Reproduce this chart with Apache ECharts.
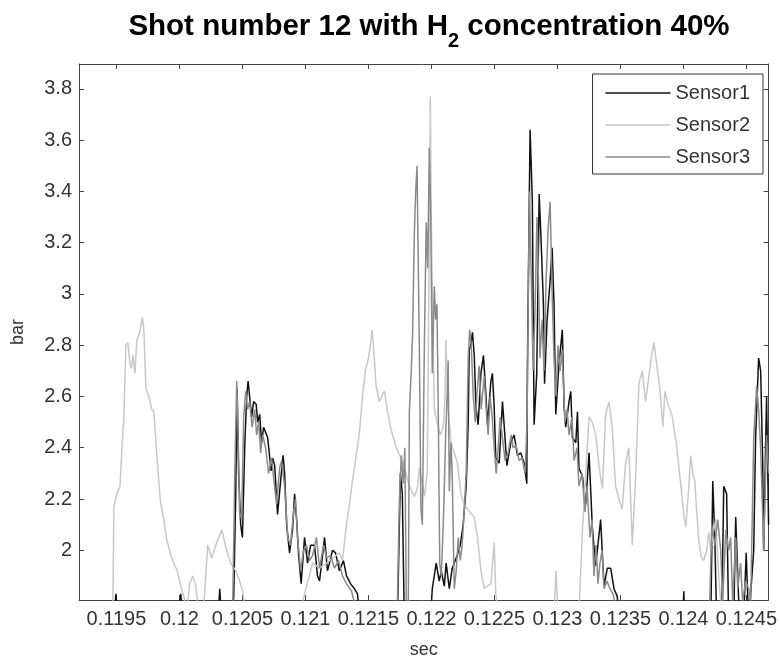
<!DOCTYPE html>
<html>
<head>
<meta charset="utf-8">
<script src="https://cdn.jsdelivr.net/npm/echarts@6/dist/echarts.min.js"></script>
<style>html,body{margin:0;padding:0;background:#fff}#chart{width:780px;height:664px}</style>
</head>
<body>
<div id="chart"></div>
<script>
// ---- data (time in sec, pressure in bar) ----
const seriesNames = ['Sensor1', 'Sensor2', 'Sensor3'];

const sensor1Time = [0.119203,0.119480,0.119496,0.119512,0.119995,0.120011,0.120027,0.120304,0.120320,0.120336,0.120415,0.120431,0.120447,0.120458,0.120470,0.120486,0.120500,0.120518,0.120534,0.120545,0.120557,0.120573,0.120589,0.120609,0.120621,0.120637,0.120652,0.120668,0.120684,0.120700,0.120728,0.120740,0.120756,0.120779,0.120803,0.120823,0.120835,0.120851,0.120874,0.120898,0.120914,0.120930,0.120946,0.120966,0.120993,0.121017,0.121041,0.121072,0.121096,0.121112,0.121136,0.121152,0.121175,0.121191,0.121215,0.121239,0.121270,0.121302,0.121326,0.121358,0.121389,0.121413,0.121437,0.121730,0.121754,0.121769,0.121785,0.121991,0.122007,0.122038,0.122062,0.122078,0.122102,0.122117,0.122142,0.122165,0.122189,0.122205,0.122229,0.122252,0.122276,0.122292,0.122300,0.122312,0.122326,0.122340,0.122353,0.122371,0.122393,0.122413,0.122432,0.122445,0.122472,0.122484,0.122498,0.122511,0.122538,0.122564,0.122577,0.122599,0.122630,0.122656,0.122683,0.122709,0.122736,0.122757,0.122762,0.122783,0.122793,0.122801,0.122815,0.122836,0.122855,0.122868,0.122889,0.122898,0.122918,0.122942,0.122958,0.122973,0.122987,0.123013,0.123039,0.123053,0.123066,0.123092,0.123106,0.123119,0.123146,0.123159,0.123171,0.123198,0.123225,0.123251,0.123277,0.123304,0.123343,0.123370,0.123396,0.123423,0.123449,0.123475,0.123488,0.123995,0.124003,0.124011,0.124217,0.124233,0.124249,0.124264,0.124304,0.124320,0.124343,0.124359,0.124399,0.124415,0.124439,0.124478,0.124498,0.124518,0.124558,0.124573,0.124597,0.124613,0.124629,0.124637,0.124652,0.124660,0.124676];
const sensor1Bar = [1.70,1.72,1.83,1.72,1.72,1.83,1.72,1.72,1.85,1.72,1.72,1.82,2.22,2.63,2.30,2.10,2.05,2.40,2.60,2.66,2.60,2.52,2.58,2.57,2.50,2.53,2.42,2.48,2.46,2.44,2.31,2.36,2.33,2.14,2.27,2.37,2.30,2.10,1.99,2.08,2.22,2.12,1.98,1.87,2.05,1.95,2.02,2.02,1.90,1.88,1.98,2.05,1.92,1.95,2.00,1.99,1.92,1.96,1.90,1.87,1.85,1.83,1.72,1.72,2.30,2.22,1.72,1.72,1.85,1.95,1.88,1.92,1.86,1.95,1.85,1.93,1.96,1.98,2.02,2.10,2.25,2.50,2.78,2.80,2.85,2.76,2.56,2.49,2.69,2.76,2.61,2.49,2.66,2.69,2.56,2.36,2.34,2.58,2.49,2.33,2.42,2.45,2.37,2.38,2.34,2.26,2.72,3.64,3.49,3.36,2.49,2.69,3.39,3.24,2.96,2.65,2.90,3.05,3.18,2.96,2.53,2.73,2.86,2.56,2.48,2.58,2.62,2.44,2.42,2.54,2.32,2.29,2.18,2.38,2.09,1.94,2.12,1.86,1.93,1.93,1.85,1.82,1.72,1.72,1.84,1.72,1.72,2.27,2.05,1.72,1.72,2.25,2.22,1.72,1.72,2.13,1.80,1.72,1.99,1.72,2.00,2.44,2.75,2.70,2.35,2.00,2.40,2.60,2.10];

const sensor2Time = [0.119203,0.119472,0.119480,0.119504,0.119528,0.119544,0.119559,0.119575,0.119591,0.119607,0.119619,0.119631,0.119647,0.119662,0.119678,0.119694,0.119706,0.119718,0.119734,0.119757,0.119781,0.119797,0.119821,0.119849,0.119876,0.119900,0.119932,0.119955,0.119983,0.120011,0.120035,0.120058,0.120082,0.120106,0.120130,0.120153,0.120193,0.120225,0.120256,0.120296,0.120336,0.120375,0.120407,0.120447,0.120478,0.120502,0.120526,0.120954,0.121009,0.121057,0.121112,0.121168,0.121215,0.121270,0.121294,0.121326,0.121350,0.121373,0.121397,0.121429,0.121453,0.121476,0.121500,0.121516,0.121528,0.121540,0.121561,0.121587,0.121613,0.121627,0.121653,0.121680,0.121698,0.121720,0.121759,0.121798,0.121825,0.121864,0.121888,0.121904,0.121928,0.121944,0.121967,0.121983,0.121991,0.121999,0.122007,0.122023,0.122046,0.122070,0.122094,0.122109,0.122115,0.122133,0.122155,0.122181,0.122207,0.122234,0.122260,0.122286,0.122340,0.122366,0.122393,0.122419,0.122472,0.122498,0.122511,0.122530,0.122973,0.122989,0.123005,0.123171,0.123198,0.123225,0.123251,0.123277,0.123304,0.123330,0.123357,0.123383,0.123409,0.123435,0.123462,0.123488,0.123514,0.123541,0.123567,0.123594,0.123621,0.123647,0.123673,0.123700,0.123739,0.123766,0.123782,0.123797,0.123813,0.123837,0.123853,0.123877,0.123908,0.123948,0.123980,0.124003,0.124019,0.124043,0.124058,0.124074,0.124090,0.124106,0.124122,0.124138,0.124161,0.124185,0.124201,0.124217,0.124241,0.124256,0.124280,0.124304,0.124676];
const sensor2Bar = [1.75,1.80,2.17,2.22,2.25,2.40,2.52,2.80,2.81,2.73,2.71,2.76,2.69,2.82,2.84,2.87,2.91,2.86,2.63,2.60,2.55,2.54,2.37,2.19,2.12,2.04,1.98,1.95,1.92,1.86,1.82,1.76,1.87,1.90,1.86,1.76,1.78,2.02,1.97,2.03,2.08,2.00,1.95,1.92,1.88,1.84,1.76,1.75,1.86,1.95,1.93,1.95,1.97,1.99,1.96,2.10,2.18,2.27,2.35,2.46,2.60,2.70,2.75,2.80,2.86,2.80,2.64,2.58,2.61,2.62,2.54,2.47,2.44,2.40,2.36,2.30,2.25,2.21,2.24,2.32,2.26,2.21,2.30,3.20,3.77,3.30,3.00,2.55,2.50,2.45,2.48,2.60,2.82,2.55,2.42,2.38,2.34,2.22,2.18,2.16,2.13,2.05,1.92,1.85,1.87,2.03,1.83,1.75,1.75,1.92,1.75,1.76,2.07,2.30,2.52,2.50,2.45,2.33,2.24,2.53,2.58,2.48,2.25,2.20,2.16,2.34,2.40,2.02,2.29,2.65,2.70,2.58,2.73,2.81,2.75,2.69,2.63,2.48,2.62,2.57,2.53,2.40,2.25,2.14,2.09,2.25,2.37,2.30,2.27,2.15,2.04,1.98,1.96,2.00,2.07,2.00,2.08,2.12,1.90,1.75,1.75];

const sensor3Time = [0.119203,0.120423,0.120439,0.120455,0.120466,0.120478,0.120494,0.120510,0.120526,0.120541,0.120557,0.120577,0.120597,0.120613,0.120629,0.120645,0.120660,0.120684,0.120708,0.120732,0.120748,0.120771,0.120795,0.120811,0.120835,0.120859,0.120882,0.120906,0.120922,0.120938,0.120962,0.120985,0.121009,0.121033,0.121057,0.121088,0.121112,0.121144,0.121168,0.121199,0.121231,0.121263,0.121294,0.121326,0.121366,0.121397,0.121706,0.121730,0.121746,0.121761,0.121777,0.121789,0.121801,0.121817,0.121825,0.121840,0.121851,0.121864,0.121876,0.121886,0.121896,0.121904,0.121917,0.121928,0.121944,0.121959,0.121971,0.121983,0.121995,0.122007,0.122023,0.122034,0.122044,0.122054,0.122066,0.122078,0.122094,0.122115,0.122125,0.122133,0.122142,0.122155,0.122165,0.122181,0.122197,0.122213,0.122229,0.122244,0.122260,0.122276,0.122292,0.122304,0.122316,0.122332,0.122348,0.122363,0.122379,0.122395,0.122419,0.122435,0.122450,0.122466,0.122482,0.122498,0.122514,0.122530,0.122546,0.122561,0.122585,0.122609,0.122633,0.122648,0.122672,0.122696,0.122720,0.122743,0.122759,0.122771,0.122779,0.122791,0.122807,0.122823,0.122838,0.122850,0.122862,0.122878,0.122894,0.122910,0.122926,0.122942,0.122958,0.122973,0.122989,0.123005,0.123021,0.123037,0.123060,0.123076,0.123092,0.123116,0.123132,0.123156,0.123171,0.123195,0.123219,0.123235,0.123259,0.123275,0.123290,0.123306,0.123322,0.123338,0.123354,0.123370,0.123393,0.123417,0.123441,0.123464,0.124161,0.124209,0.124225,0.124249,0.124272,0.124296,0.124312,0.124336,0.124359,0.124375,0.124391,0.124415,0.124431,0.124454,0.124470,0.124494,0.124518,0.124534,0.124558,0.124581,0.124597,0.124613,0.124637,0.124660,0.124676];
const sensor3Bar = [1.70,1.78,2.30,2.66,2.45,2.15,2.12,2.52,2.62,2.55,2.58,2.48,2.55,2.45,2.50,2.38,2.45,2.40,2.30,2.36,2.28,2.18,2.32,2.35,2.25,2.05,2.02,2.15,2.20,2.05,1.92,2.00,2.02,1.96,1.98,2.05,1.93,2.02,1.97,1.98,1.93,1.96,1.90,1.87,1.84,1.78,1.75,1.80,2.20,2.37,2.26,2.40,1.78,1.80,2.54,2.70,2.85,3.23,3.41,3.50,3.10,2.80,2.16,2.10,2.80,3.28,3.10,3.57,3.30,2.69,3.03,2.90,2.96,2.56,1.95,1.90,2.10,2.48,2.60,2.74,2.23,2.42,2.30,1.85,1.92,2.05,1.96,2.02,2.15,2.30,2.75,2.86,2.80,2.60,2.50,2.62,2.72,2.55,2.68,2.55,2.45,2.60,2.52,2.40,2.30,2.40,2.52,2.45,2.35,2.38,2.45,2.40,2.41,2.35,2.36,2.30,2.50,3.10,3.40,3.10,2.70,2.95,3.30,3.05,2.75,2.90,2.70,3.05,3.25,3.36,3.00,2.75,2.60,2.80,2.70,2.78,2.50,2.55,2.45,2.52,2.35,2.40,2.25,2.30,2.15,2.25,2.05,2.12,1.90,2.02,1.87,1.95,2.00,1.85,1.88,1.85,1.83,1.78,1.75,1.80,2.10,2.02,2.12,2.00,1.80,2.08,2.00,2.05,1.80,2.05,1.85,1.95,1.80,1.88,1.85,1.80,2.44,2.64,2.55,2.40,2.00,2.45,2.30];

const xTicks = [0.1195, 0.12, 0.1205, 0.121, 0.1215, 0.122, 0.1225, 0.123, 0.1235, 0.124, 0.1245];
const xTickLabels = ['0.1195', '0.12', '0.1205', '0.121', '0.1215', '0.122', '0.1225', '0.123', '0.1235', '0.124', '0.1245'];
const yTicks = [2, 2.2, 2.4, 2.6, 2.8, 3, 3.2, 3.4, 3.6, 3.8];
const yTickLabels = ['2', '2.2', '2.4', '2.6', '2.8', '3', '3.2', '3.4', '3.6', '3.8'];
const xRange = [0.119203, 0.124676];
const yRange = [1.806, 3.897];

// ---- chart ----
const FONT = '"Liberation Sans", Arial, Helvetica, sans-serif';
const AXIS_COLOR = '#444';
const TEXT_COLOR = '#333';
const seriesColors = ['#111111', '#c8c8c8', '#8a8a8a'];

function zip(t, v) { return t.map((x, i) => [x, v[i]]); }
function lookup(ticks, labels) {
  return function (v) {
    const i = ticks.findIndex(t => Math.abs(t - v) < 1e-9);
    return i >= 0 ? labels[i] : '';
  };
}

const baseAxis = {
  type: 'value',
  splitLine: { show: false },
  axisLine: { show: true, onZero: false, lineStyle: { color: AXIS_COLOR, width: 1 } },
};

const chart = echarts.init(document.getElementById('chart'), null, { renderer: 'canvas' });
chart.setOption({
  animation: false,
  backgroundColor: '#fff',
  title: {
    text: '{a|Shot number 12 with H}{s|2}{a| concentration 40%}',
    left: 424,
    textAlign: 'center',
    top: 7,
    textStyle: {
      rich: {
        a: { fontFamily: FONT, fontSize: 29.5, fontWeight: 'bold', color: '#000', lineHeight: 33, verticalAlign: 'top' },
        s: { fontFamily: FONT, fontSize: 20, fontWeight: 'bold', color: '#000', lineHeight: 20, padding: [19, 0, 0, 0], verticalAlign: 'top' }
      }
    }
  },
  grid: { left: 79, right: 10, top: 64, bottom: 57, containLabel: false },
  legend: {
    data: seriesNames.map(n => ({ name: n, icon: 'rect' })),
    orient: 'vertical',
    right: 17,
    top: 74,
    backgroundColor: '#fff',
    borderColor: '#333',
    borderWidth: 1,
    padding: [9, 13, 7, 13],
    itemWidth: 65,
    itemHeight: 1.6,
    itemGap: 12,
    textStyle: { fontFamily: FONT, fontSize: 20, color: TEXT_COLOR, lineHeight: 20 }
  },
  xAxis: [
    Object.assign({}, baseAxis, {
      min: xRange[0], max: xRange[1], position: 'bottom',
      name: 'sec', nameLocation: 'middle', nameGap: 41,
      nameTextStyle: { fontFamily: FONT, fontSize: 18, color: TEXT_COLOR },
      axisTick: { show: true, inside: true, length: 5, customValues: xTicks, lineStyle: { color: AXIS_COLOR } },
      axisLabel: { show: true, customValues: xTicks, formatter: lookup(xTicks, xTickLabels), margin: 9,
                   fontFamily: FONT, fontSize: 20, color: TEXT_COLOR }
    }),
    Object.assign({}, baseAxis, {
      min: xRange[0], max: xRange[1], position: 'top',
      axisTick: { show: true, inside: true, length: 5, customValues: xTicks, lineStyle: { color: AXIS_COLOR } },
      axisLabel: { show: false }
    })
  ],
  yAxis: [
    Object.assign({}, baseAxis, {
      min: yRange[0], max: yRange[1], position: 'left',
      name: 'bar', nameLocation: 'middle', nameGap: 52,
      nameTextStyle: { fontFamily: FONT, fontSize: 18, color: TEXT_COLOR },
      axisTick: { show: true, inside: true, length: 5, customValues: yTicks, lineStyle: { color: AXIS_COLOR } },
      axisLabel: { show: true, customValues: yTicks, formatter: lookup(yTicks, yTickLabels), margin: 7,
                   fontFamily: FONT, fontSize: 20, color: TEXT_COLOR }
    }),
    Object.assign({}, baseAxis, {
      min: yRange[0], max: yRange[1], position: 'right',
      axisTick: { show: true, inside: true, length: 5, customValues: yTicks, lineStyle: { color: AXIS_COLOR } },
      axisLabel: { show: false }
    })
  ],
  series: [
    { name: seriesNames[0], type: 'line', data: zip(sensor1Time, sensor1Bar), color: seriesColors[0] },
    { name: seriesNames[1], type: 'line', data: zip(sensor2Time, sensor2Bar), color: seriesColors[1] },
    { name: seriesNames[2], type: 'line', data: zip(sensor3Time, sensor3Bar), color: seriesColors[2] }
  ].map(s => Object.assign(s, {
    xAxisIndex: 0, yAxisIndex: 0,
    symbol: 'none', showSymbol: false, clip: true,
    lineStyle: { width: 1.5, color: s.color },
    itemStyle: { color: s.color },
    emphasis: { disabled: true }
  }))
});
</script>
</body>
</html>
